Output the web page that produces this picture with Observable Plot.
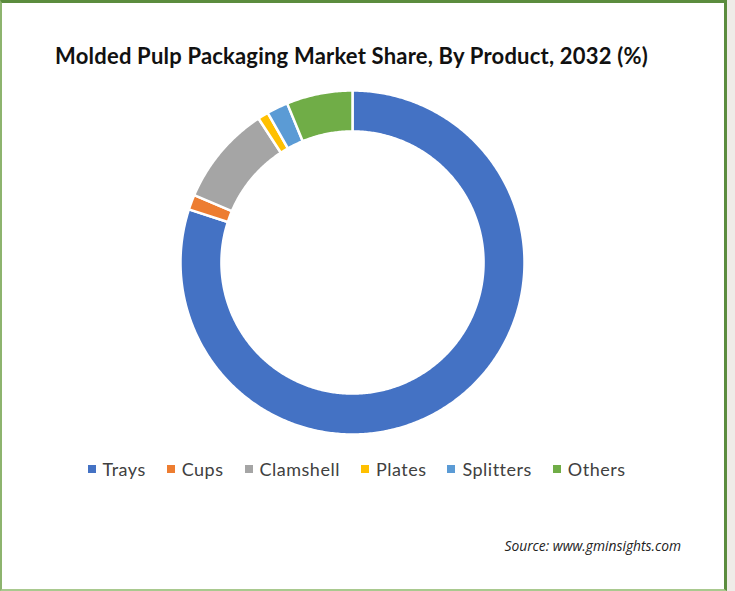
<!DOCTYPE html>
<html>
<head>
<meta charset="utf-8">
<script src="https://cdn.jsdelivr.net/npm/d3@7"></script>
<script src="https://cdn.jsdelivr.net/npm/@observablehq/plot@0.6"></script>
<style>
  html, body { margin: 0; padding: 0; }
  body { width: 735px; height: 591px; background: #efece8; position: relative; overflow: hidden; font-family: Lato, "Open Sans", sans-serif; }
  #frame { position: absolute; left: 0; top: 0; width: 727px; height: 591px; box-sizing: border-box; background: #fff;
    border-top: 3px solid #5b8c3e; border-right: 3px solid #5b8c3e; border-left: 2px solid #8db46e; border-bottom: 2px solid #a9c98f; }
  #title { position: absolute; left: 0; width: 703px; top: 43px; text-align: center; font-size: 22px; letter-spacing: 0.2px; line-height: 26px; font-weight: 700; color: #111; }
  #chart { position: absolute; left: 170px; top: 80px; }
  #legend { position: absolute; left: 0; width: 713px; top: 459px; display: flex; justify-content: center; gap: 21px; font-size: 18px; letter-spacing: 0.5px; line-height: 20px; color: #404040; }
  .item { display: flex; align-items: center; }
  .sw { width: 8px; height: 8px; margin-right: 7px; }
  #source { position: absolute; right: 54px; top: 536px; font-family: "Open Sans", sans-serif; font-style: italic; font-size: 13.8px; color: #222; }
</style>
</head>
<body>
<div id="frame"></div>
<div id="title">Molded Pulp Packaging Market Share, By Product, 2032 (%)</div>
<div id="chart"></div>
<div id="legend"></div>
<div id="source">Source: www.gminsights.com</div>
<script>
const categories = ["Trays", "Cups", "Clamshell", "Plates", "Splitters", "Others"];
const shares = [80.0, 1.4, 9.4, 1.0, 2.0, 6.2];
const colors = ["#4472c4", "#ed7d31", "#a5a5a5", "#ffc000", "#5b9bd5", "#70ad47"];

const data = categories.map((c, i) => ({category: c, value: shares[i]}));
const outerR = 1, innerR = 0.762;
const pie = d3.pie().sort(null).value(d => d.value).startAngle(0).endAngle(2 * Math.PI);
const arcs = pie(data);

// polygon points for each slice (outer arc, then inner arc back)
const pts = [];
for (const a of arcs) {
  const n = Math.max(4, Math.ceil((a.endAngle - a.startAngle) / 0.01));
  for (let k = 0; k <= n; k++) {
    const t = a.startAngle + (a.endAngle - a.startAngle) * k / n;
    pts.push({category: a.data.category, x: outerR * Math.sin(t), y: outerR * Math.cos(t)});
  }
  for (let k = n; k >= 0; k--) {
    const t = a.startAngle + (a.endAngle - a.startAngle) * k / n;
    pts.push({category: a.data.category, x: innerR * Math.sin(t), y: innerR * Math.cos(t)});
  }
}

const ext = 182 / 172;
const plot = Plot.plot({
  width: 364,
  height: 364,
  margin: 0,
  x: {domain: [-ext, ext], axis: null},
  y: {domain: [-ext, ext], axis: null},
  color: {domain: categories, range: colors},
  marks: [
    Plot.line(pts, {x: "x", y: "y", z: "category", fill: "category", stroke: "white", strokeWidth: 2.5, curve: "linear-closed"})
  ]
});
document.getElementById("chart").appendChild(plot);

const legend = document.getElementById("legend");
categories.forEach((c, i) => {
  const it = document.createElement("div");
  it.className = "item";
  const sw = document.createElement("span");
  sw.className = "sw";
  sw.style.background = plot.scale("color").apply(c);
  it.appendChild(sw);
  it.appendChild(document.createTextNode(c));
  legend.appendChild(it);
});
</script>
</body>
</html>
